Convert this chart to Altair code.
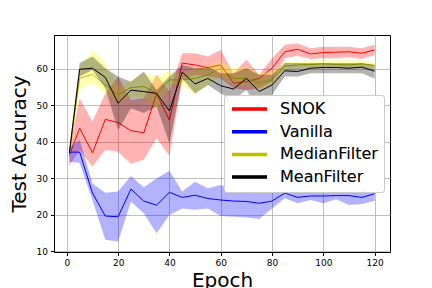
import altair as alt
import pandas as pd

epochs = [1, 5, 10, 15, 20, 25, 30, 35, 40, 45, 50, 55, 60, 65, 70, 75, 80, 85, 90, 95, 100, 105, 110, 115, 120]

snok_mean = [36.4, 43.8, 37.0, 46.2, 45.3, 43.1, 42.5, 53.2, 46.0, 61.6, 61.1, 60.4, 61.1, 56.1, 56.5, 57.4, 60.2, 64.7, 65.4, 64.1, 64.5, 64.6, 64.7, 64.3, 65.2]
snok_lo = [33.5, 37.8, 33.2, 37.8, 37.3, 34.0, 35.1, 41.0, 36.2, 57.0, 58.4, 57.9, 57.4, 54.7, 54.2, 54.7, 56.5, 62.9, 63.6, 62.7, 62.9, 62.9, 63.2, 62.7, 63.8]
snok_hi = [38.5, 52.0, 45.6, 53.3, 57.9, 51.5, 52.0, 58.4, 53.8, 64.3, 64.3, 63.4, 65.2, 58.8, 62.5, 58.4, 62.9, 66.6, 67.0, 65.7, 66.1, 66.1, 66.1, 65.7, 66.6]

van_mean = [37.2, 37.2, 26.0, 19.7, 19.5, 27.1, 23.8, 22.7, 26.2, 24.8, 25.4, 24.5, 24.1, 23.8, 23.7, 23.2, 23.8, 26.0, 24.8, 25.2, 25.2, 25.3, 25.3, 24.8, 25.8]
van_lo = [34.6, 34.2, 24.0, 13.2, 12.7, 23.6, 20.5, 15.0, 20.0, 21.8, 21.4, 21.8, 19.7, 19.5, 19.3, 18.9, 21.8, 24.6, 23.2, 24.1, 23.2, 24.3, 22.7, 23.0, 23.9]
van_hi = [38.5, 40.6, 28.6, 26.1, 26.4, 30.7, 27.6, 30.0, 32.1, 26.4, 29.1, 27.3, 28.2, 26.8, 27.8, 27.3, 26.0, 27.3, 26.8, 27.0, 26.7, 27.0, 27.9, 26.8, 27.8]

med_mean = [37.0, 57.5, 58.5, 55.6, 52.9, 54.9, 55.2, 53.3, 57.0, 57.0, 57.4, 58.4, 60.2, 57.4, 57.4, 56.1, 57.0, 60.8, 61.1, 61.2, 61.4, 61.2, 61.1, 61.4, 61.0]
med_lo = [35.5, 54.7, 56.1, 53.3, 50.6, 52.4, 52.4, 48.8, 55.6, 55.6, 52.9, 55.6, 57.9, 55.6, 55.6, 54.2, 55.6, 59.9, 60.2, 60.2, 60.2, 60.2, 60.2, 60.2, 59.9]
med_hi = [38.5, 60.6, 65.2, 61.6, 55.2, 57.0, 58.8, 57.9, 59.3, 58.4, 60.2, 61.1, 62.0, 60.2, 60.6, 58.8, 59.3, 62.0, 62.0, 62.3, 62.3, 62.3, 62.3, 62.3, 61.7]

mean_mean = [37.0, 59.9, 60.2, 57.7, 50.6, 54.2, 53.8, 53.3, 48.5, 59.1, 55.9, 57.4, 55.4, 54.5, 57.4, 53.8, 55.6, 59.5, 59.3, 60.2, 60.4, 60.4, 60.2, 60.5, 59.4]
mean_lo = [35.5, 57.9, 59.7, 54.7, 43.3, 49.2, 47.9, 49.7, 39.6, 57.4, 53.3, 55.6, 53.3, 51.5, 54.2, 48.8, 52.9, 57.9, 57.9, 58.8, 58.8, 58.8, 58.8, 58.8, 57.4]
mean_hi = [38.5, 61.6, 63.4, 60.2, 57.9, 56.5, 59.3, 54.2, 57.9, 61.1, 60.2, 60.6, 58.8, 58.8, 60.2, 58.4, 58.4, 61.6, 61.6, 61.6, 61.6, 61.6, 61.6, 61.6, 61.1]

series_names = ["SNOK", "Vanilla", "MedianFilter", "MeanFilter"]
line_colors = ["#ff0000", "#0000ff", "#bfbf00", "#000000"]
band_colors = ["#ff0000", "#0000ff", "#ffff00", "#000000"]
x_ticks = [0, 20, 40, 60, 80, 100, 120]
y_ticks = [10, 20, 30, 40, 50, 60]

series_data = [
    (snok_mean, snok_lo, snok_hi),
    (van_mean, van_lo, van_hi),
    (med_mean, med_lo, med_hi),
    (mean_mean, mean_lo, mean_hi),
]

rows = []
for name, (m, lo, hi) in zip(series_names, series_data):
    for e, a, b, c in zip(epochs, m, lo, hi):
        rows.append({"epoch": e, "series": name, "band": name, "acc": a, "lo": b, "hi": c})
df = pd.DataFrame(rows)

x_enc = alt.X(
    "epoch:Q",
    scale=alt.Scale(domain=[-5, 126], nice=False, zero=False),
    axis=alt.Axis(values=x_ticks, title="Epoch", titlePadding=3),
)
y_scale = alt.Scale(domain=[9.85, 69.3], nice=False, zero=False)
y_axis = alt.Axis(values=y_ticks, title="Test Accuracy", titlePadding=7)

legend = alt.Legend(
    orient="none",
    legendX=170,
    legendY=60,
    symbolType="stroke",
    symbolSize=1225,
    symbolStrokeWidth=3.5,
    clipHeight=16,
    labelFontSize=16,
    labelFont="DejaVu Sans",
    labelColor="#000000",
    labelOffset=11,
    rowPadding=6.7,
    padding=6,
    fillColor="rgba(255,255,255,0.8)",
    strokeColor="#cccccc",
    cornerRadius=3,
)

layers = []
for name in series_names:
    sub = df[df["series"] == name]
    band = alt.Chart(sub).mark_area(opacity=0.3).encode(
        x=x_enc,
        y=alt.Y("lo:Q", scale=y_scale, axis=y_axis),
        y2="hi:Q",
        fill=alt.Fill("band:N", scale=alt.Scale(domain=series_names, range=band_colors), legend=None),
    )
    line = alt.Chart(sub).mark_line(strokeWidth=1).encode(
        x=x_enc,
        y=alt.Y("acc:Q", scale=y_scale, axis=y_axis),
        stroke=alt.Stroke(
            "series:N",
            scale=alt.Scale(domain=series_names, range=line_colors),
            sort=series_names,
            title=None,
            legend=legend,
        ),
    )
    layers += [band, line]

chart = alt.layer(*layers).properties(
    width=336,
    height=217,
    autosize=alt.AutoSizeParams(type="none"),
    padding={"left": 46, "top": 27, "right": 34, "bottom": 36},
).resolve_legend(
    fill="independent", stroke="independent"
).configure_view(
    stroke="#000000", strokeWidth=1
).configure_axis(
    grid=True,
    gridColor="#b0b0b0",
    gridWidth=0.8,
    domainColor="#000000",
    domainWidth=1,
    tickColor="#000000",
    tickSize=3.5,
    labelFont="DejaVu Sans",
    labelFontSize=9,
    labelColor="#000000",
    labelPadding=3,
    titleFont="DejaVu Sans",
    titleFontSize=20,
    titleFontWeight="normal",
    titleColor="#000000",
)

chart.save("out.html", embed_options={"renderer": "svg", "actions": False})
